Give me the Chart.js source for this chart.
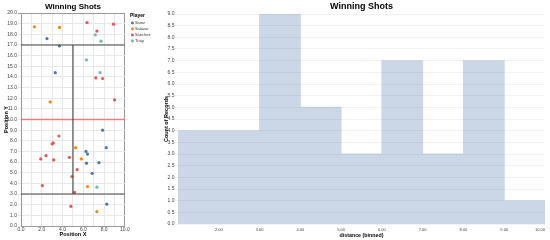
<!DOCTYPE html>
<html>
<head>
<meta charset="utf-8">
<script src="https://cdn.jsdelivr.net/npm/chart.js@4.4.0/dist/chart.umd.min.js"></script>
<style>
  body { margin: 0; background: #fff; }
  .box { position: absolute; top: 0; height: 240px; }
  #left { left: 0; width: 158px; }
  #right { left: 158px; width: 392px; }
</style>
</head>
<body>
<div class="box" id="left"><canvas id="shotsChart"></canvas></div>
<div class="box" id="right"><canvas id="distChart"></canvas></div>
<script>
// Scatter data: [x, y] per player
const players = ['Sainz', 'Salazar', 'Sánchez', 'Tríay'];
const playerColors = ['#4c78a8', '#f58518', '#e45756', '#72b7b2'];
const sainzShots = [[2.5, 17.6], [3.7, 16.9], [3.3, 14.4], [7.85, 9.0], [8.2, 7.35], [6.25, 7.0], [6.4, 6.75], [6.3, 5.9], [7.5, 5.95], [6.85, 4.95], [8.25, 2.05]];
const salazarShots = [[1.3, 18.7], [3.7, 18.65], [2.8, 11.65], [5.25, 7.35], [5.8, 6.3], [6.4, 3.7], [7.3, 1.35]];
const sanchezShots = [[6.35, 19.1], [8.9, 18.95], [7.3, 18.3], [7.2, 13.9], [7.85, 13.85], [9.0, 11.85], [3.65, 8.45], [3.1, 7.8], [3.0, 7.7], [2.4, 6.6], [4.65, 6.45], [1.9, 6.3], [3.15, 6.2], [5.4, 5.3], [4.9, 4.65], [2.05, 3.8], [5.15, 3.15], [4.8, 1.85]];
const triayShots = [[7.15, 17.95], [7.7, 17.35], [6.3, 15.6], [7.6, 14.4], [7.3, 3.65]];
const shotsByPlayer = [sainzShots, salazarShots, sanchezShots, triayShots];

// court rules
const courtX = [0, 10];
const courtY = [0, 20];
const splitRowsY = [17, 3];
const splitColX = 5;
const midlineY = 10;

// Histogram data
const binStarts = [1, 2, 3, 4, 5, 6, 7, 8, 9];
const binCounts = [4, 4, 9, 5, 3, 7, 3, 7, 1];
const binWidth = 1;

Chart.defaults.font.family = '"Liberation Sans", Arial, sans-serif';
Chart.defaults.color = '#444';

// push the legend a few px away from the plot
const legendGap = {
  id: 'legendGap',
  afterLayout(chart) {
    chart.legend.left += 5;
    chart.legend.right += 5;
  },
};

const ruleDatasets = [
  {
    data: [{ x: courtX[0], y: splitRowsY[0] }, { x: courtX[1], y: splitRowsY[0] }],
    borderColor: '#444',
  },
  {
    data: [{ x: courtX[0], y: splitRowsY[1] }, { x: courtX[1], y: splitRowsY[1] }],
    borderColor: '#444',
  },
  {
    data: [{ x: splitColX, y: splitRowsY[1] }, { x: splitColX, y: splitRowsY[0] }],
    borderColor: '#444',
  },
  {
    data: [{ x: courtX[0], y: midlineY }, { x: courtX[1], y: midlineY }],
    borderColor: 'rgba(240, 80, 80, 0.7)',
    borderWidth: 1.4,
  },
].map((d) => ({
  type: 'line',
  label: '',
  showLine: true,
  pointRadius: 0,
  borderWidth: 1.1,
  order: 0,
  ...d,
}));

const playerDatasets = players.map((name, i) => ({
  label: name,
  data: shotsByPlayer[i].map((p) => ({ x: p[0], y: p[1] })),
  backgroundColor: playerColors[i],
  borderColor: playerColors[i],
  pointRadius: 1.6,
  borderWidth: 0,
  order: 1,
}));

const edgeGrid = (max) => (c) => (c.tick && c.tick.value === max ? '#999' : '#e8e8e8');

new Chart(document.getElementById('shotsChart'), {
  type: 'scatter',
  data: { datasets: [...playerDatasets, ...ruleDatasets] },
  plugins: [legendGap],
  options: {
    responsive: true,
    maintainAspectRatio: false,
    animation: false,
    layout: { padding: { right: 2.5 } },
    plugins: {
      title: {
        display: true,
        text: 'Winning Shots',
        fullSize: false,
        color: '#000',
        font: { size: 8, weight: 'bold' },
        padding: { top: 2, bottom: 1.4 },
      },
      legend: {
        position: 'right',
        align: 'start',
        fullSize: false,
        title: {
          display: true,
          text: 'Player',
          position: 'start',
          color: '#000',
          font: { size: 5, weight: 'bold' },
          padding: 0,
        },
        labels: {
          filter: (item) => players.includes(item.text),
          usePointStyle: true,
          pointStyle: 'circle',
          boxWidth: 1,
          boxHeight: 2.1,
          padding: 2,
          color: '#333',
          font: { size: 4 },
        },
      },
      tooltip: { enabled: false },
    },
    scales: {
      x: {
        type: 'linear',
        min: courtX[0],
        max: courtX[1],
        ticks: {
          stepSize: 1,
          autoSkip: false,
          maxRotation: 0,
          padding: 1,
          font: { size: 5 },
          callback: (v) => (v % 2 === 0 ? v.toFixed(1) : ''),
        },
        grid: { color: edgeGrid(courtX[1]), drawTicks: false },
        border: { color: '#999' },
        title: {
          display: true,
          text: 'Position X',
          color: '#000',
          font: { size: 5.5, weight: 'bold' },
          padding: { top: 0, bottom: 2.2 },
        },
        afterFit: (s) => {
          s.height = 14;
        },
      },
      y: {
        type: 'linear',
        min: courtY[0],
        max: courtY[1],
        ticks: {
          stepSize: 1,
          autoSkip: false,
          padding: 1,
          font: { size: 5 },
          callback: (v) => v.toFixed(1),
        },
        grid: { color: edgeGrid(courtY[1]), tickLength: 3 },
        border: { color: '#999' },
        title: {
          display: true,
          text: 'Position Y',
          color: '#000',
          font: { size: 5.5, weight: 'bold' },
          padding: { top: 2.7, bottom: 0 },
        },
        afterFit: (s) => {
          s.width = 21;
        },
      },
    },
  },
});

new Chart(document.getElementById('distChart'), {
  type: 'bar',
  data: {
    datasets: [
      {
        label: 'Count of Records',
        data: binStarts.map((b, i) => ({ x: b + binWidth / 2, y: binCounts[i] })),
        backgroundColor: 'rgb(203, 215, 230)',
        borderColor: 'rgba(0, 0, 0, 0)',
        borderWidth: 0,
        inflateAmount: 0.5,
        barPercentage: 1,
        categoryPercentage: 1,
      },
    ],
  },
  options: {
    responsive: true,
    maintainAspectRatio: false,
    animation: false,
    layout: { padding: { right: 5 } },
    plugins: {
      title: {
        display: true,
        text: 'Winning Shots',
        fullSize: false,
        color: '#000',
        font: { size: 9, weight: 'bold' },
        padding: { top: 1.5, bottom: 1.7 },
      },
      legend: { display: false },
      tooltip: { enabled: false },
    },
    scales: {
      x: {
        type: 'linear',
        offset: false,
        min: binStarts[0],
        max: binStarts[binStarts.length - 1] + binWidth,
        ticks: {
          stepSize: 1,
          autoSkip: false,
          maxRotation: 0,
          align: 'inner',
          padding: 3,
          font: { size: 4 },
          callback: (v, i) => (i === 0 ? '' : v.toFixed(2)),
        },
        grid: { display: false, drawTicks: false },
        border: { display: false },
        title: {
          display: true,
          text: 'distance (binned)',
          color: '#000',
          font: { size: 5.3, weight: 'bold' },
          padding: { top: 0, bottom: 1.4 },
        },
        afterFit: (s) => {
          s.height = 16;
        },
      },
      y: {
        min: 0,
        max: 9,
        ticks: {
          stepSize: 0.5,
          autoSkip: false,
          padding: 0.5,
          font: { size: 5 },
          callback: (v) => v.toFixed(1),
        },
        grid: { color: 'rgba(0, 0, 0, 0.05)', tickLength: 3, z: 1 },
        border: { display: false },
        title: {
          display: true,
          text: 'Count of Records',
          color: '#000',
          font: { size: 5.5, weight: 'bold' },
          padding: { top: 4.7, bottom: 0 },
        },
        afterFit: (s) => {
          s.width = 20;
        },
      },
    },
  },
});
</script>
</body>
</html>
